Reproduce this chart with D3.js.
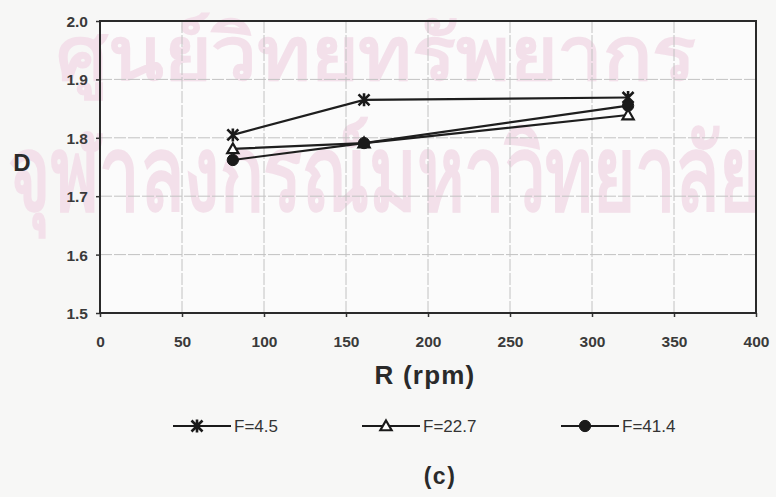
<!DOCTYPE html>
<html>
<head>
<meta charset="utf-8">
<script src="https://cdn.jsdelivr.net/npm/d3@7"></script>
<style>
  html, body { margin: 0; padding: 0; background: #f7f7f6; }
  svg { display: block; }
  text { font-family: "Liberation Sans", Arial, sans-serif; fill: #222; }
</style>
</head>
<body>
<svg id="chart" width="776" height="497"></svg>
<script>
// Rotor speed R (rpm) at which D was measured
const speeds = [81, 161, 322];
// Feed rate series
const seriesNames = ["F=4.5", "F=22.7", "F=41.4"];
const dF45 = [1.805, 1.865, 1.869];
const dF227 = [1.781, 1.791, 1.839];
const dF414 = [1.762, 1.791, 1.855];
const xTicks = [0, 50, 100, 150, 200, 250, 300, 350, 400];
const yTicks = [1.5, 1.6, 1.7, 1.8, 1.9, 2.0];

const series = [
  { name: seriesNames[0], values: dF45, marker: "star" },
  { name: seriesNames[1], values: dF227, marker: "triangle" },
  { name: seriesNames[2], values: dF414, marker: "circle" }
];

const svg = d3.select("#chart");
const plot = { left: 100, top: 21, right: 756, bottom: 313 };

const x = d3.scaleLinear().domain([0, 400]).range([plot.left, plot.right]);
const y = d3.scaleLinear().domain([1.5, 2.0]).range([plot.bottom, plot.top]);

// Plot background
svg.append("rect").attr("x", plot.left).attr("y", plot.top)
  .attr("width", plot.right - plot.left).attr("height", plot.bottom - plot.top)
  .attr("fill", "#fbfbfb");

// Faint library stamp behind the chart, each line squeezed to a fixed width
const thaiFont = "'Noto Sans Thai', 'Noto Sans', 'DejaVu Sans', sans-serif";
const wm = svg.append("g").style("font-family", thaiFont).style("font-weight", "600");
function stampLine(str, left, baseline, size, width) {
  const t = wm.append("text").attr("x", 0).attr("y", 0)
    .style("font-size", size + "px").style("fill", "#f3e0ea").text(str);
  const natural = t.node().getComputedTextLength() || width;
  t.attr("transform", `translate(${left},${baseline}) scale(${width / natural},1)`);
}
stampLine("ศูนย์วิทยทรัพยากร", 56, 80, 76, 644);
stampLine("จุฬาลงกรณ์มหาวิทยาลัย", 8, 210, 104, 756);

// Grid
const grid = svg.append("g").attr("stroke", "#c2c2c2").attr("stroke-width", 1)
  .attr("stroke-dasharray", "12,2");
grid.selectAll(".gx").data(xTicks.slice(1, -1)).join("line")
  .attr("x1", d => x(d)).attr("x2", d => x(d))
  .attr("y1", plot.top).attr("y2", plot.bottom);
grid.selectAll(".gy").data(yTicks.slice(1, -1)).join("line")
  .attr("y1", d => y(d)).attr("y2", d => y(d))
  .attr("x1", plot.left).attr("x2", plot.right);

// Axes
const xAxis = d3.axisBottom(x).tickValues(xTicks).tickSize(4).tickSizeOuter(0)
  .tickFormat(d3.format("d"));
const yAxis = d3.axisLeft(y).tickValues(yTicks).tickSize(4).tickSizeOuter(0)
  .tickFormat(d3.format(".1f"));

const gx = svg.append("g").attr("transform", `translate(0,${plot.bottom})`).call(xAxis);
const gy = svg.append("g").attr("transform", `translate(${plot.left},0)`).call(yAxis);
[gx, gy].forEach(g => {
  g.select(".domain").remove();
  g.selectAll("line").attr("stroke", "#333").attr("stroke-width", 1.5);
  g.selectAll("text").style("font-size", "15.5px").style("font-weight", "bold")
    .style("fill", "#3a3a3a").style("font-family", "'Liberation Sans', Arial, sans-serif");
});
gx.selectAll("text").attr("dy", "0").attr("y", 34);
gy.selectAll("text").attr("x", -12).attr("dy", "0.36em");

// Frame
svg.append("rect").attr("x", plot.left).attr("y", plot.top)
  .attr("width", plot.right - plot.left).attr("height", plot.bottom - plot.top)
  .attr("fill", "none").attr("stroke", "#2a2a2a").attr("stroke-width", 2);

// Axis titles
svg.append("text").attr("x", 22).attr("y", 171).attr("text-anchor", "middle")
  .style("font-size", "24px").style("font-weight", "bold").style("fill", "#2a2a2a").text("D");
svg.append("text").attr("x", 425).attr("y", 384).attr("text-anchor", "middle")
  .style("font-size", "26px").style("font-weight", "bold").style("letter-spacing", "1.2px")
  .style("fill", "#2a2a2a").text("R (rpm)");

// Markers
function drawMarker(g, type, cx, cy) {
  if (type === "star") {
    const s = 5.5;
    g.append("path")
      .attr("d", `M${cx - s},${cy - s}L${cx + s},${cy + s}M${cx - s},${cy + s}L${cx + s},${cy - s}` +
                 `M${cx},${cy - s - 1}L${cx},${cy + s + 1}`)
      .attr("stroke", "#1a1a1a").attr("stroke-width", 2.6).attr("fill", "none");
  } else if (type === "triangle") {
    g.append("path").attr("d", d3.symbol(d3.symbolTriangle, 55)())
      .attr("transform", `translate(${cx},${cy + 1})`)
      .attr("fill", "#fff").attr("stroke", "#1a1a1a").attr("stroke-width", 2.2);
  } else {
    g.append("path").attr("d", d3.symbol(d3.symbolCircle, 100)())
      .attr("transform", `translate(${cx},${cy})`)
      .attr("fill", "#1a1a1a").attr("stroke", "#1a1a1a").attr("stroke-width", 1);
  }
}

const line = d3.line().x((d, i) => x(speeds[i])).y(d => y(d));
series.forEach(s => {
  const g = svg.append("g");
  g.append("path").datum(s.values).attr("d", line)
    .attr("fill", "none").attr("stroke", "#1e1e1e").attr("stroke-width", 2.2);
  s.values.forEach((v, i) => drawMarker(g, s.marker, x(speeds[i]), y(v)));
});

// Legend
const legendX = [173, 362, 561];
series.forEach((s, i) => {
  const g = svg.append("g");
  const lx = legendX[i], ly = 426;
  g.append("line").attr("x1", lx).attr("x2", lx + 58).attr("y1", ly).attr("y2", ly)
    .attr("stroke", "#1a1a1a").attr("stroke-width", 1.8);
  drawMarker(g, s.marker, lx + 24, ly);
  g.append("text").attr("x", lx + 61).attr("y", ly + 6)
    .style("font-size", "17px").style("fill", "#333").text(s.name);
});

// Panel label
svg.append("text").attr("x", 440).attr("y", 484).attr("text-anchor", "middle")
  .style("font-size", "23px").style("font-weight", "bold").style("letter-spacing", "1.5px")
  .style("fill", "#2a2a2a").text("(c)");
</script>
</body>
</html>
